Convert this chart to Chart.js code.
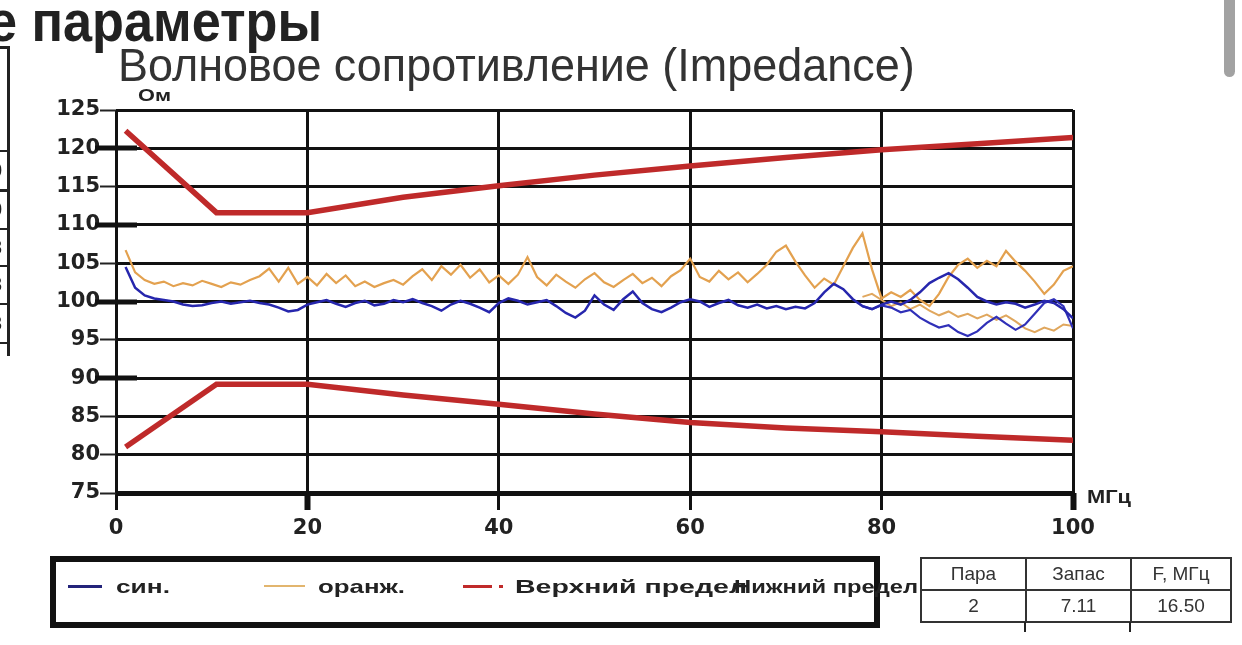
<!DOCTYPE html>
<html lang="ru">
<head>
<meta charset="utf-8">
<title>Волновое сопротивление (Impedance)</title>
<script src="https://cdn.jsdelivr.net/npm/chart.js@4.4.1/dist/chart.umd.min.js"></script>
<style>
  html, body { margin: 0; padding: 0; background: #fff; }
  body {
    width: 1242px; height: 645px; position: relative; overflow: hidden;
    font-family: 'Liberation Sans', Arial, sans-serif; color: #222;
  }
  #chart { position: absolute; left: 0; top: 0; }
  .txt { position: absolute; white-space: nowrap; line-height: 1; transform-origin: 0 50%; }
  .bold { font-weight: bold; }
  #legend {
    position: absolute; left: 50px; top: 556px; width: 830px; height: 72px;
    border: 6px solid #111; box-sizing: border-box;
  }
  .swatch { position: absolute; height: 3px; }
  #info { position: absolute; left: 920px; top: 557px; border-collapse: collapse; }
  #info td {
    border: 2px solid #333; height: 30px; padding: 0; text-align: center;
    font-size: 19px; color: #333;
  }
  .cut { position: absolute; background: #222; }
  #scroll {
    position: absolute; left: 1224px; top: -8px; width: 11px; height: 85px;
    background: #a2a2a2; border-radius: 6px;
  }
</style>
</head>
<body>
<canvas id="chart" width="1242" height="645"></canvas>

<!-- page fragments around the chart -->
<div class="txt bold" data-w="334" style="left:-12px; top:-8px; font-size:58px; color:#222;">е параметры</div>
<div class="cut" style="left:7px; top:46px; width:3px; height:310px;"></div>
<div class="cut" style="left:0; top:46px; width:9px; height:3px;"></div>
<div class="cut" style="left:0; top:150px; width:9px; height:2px;"></div>
<div class="cut" style="left:0; top:189px; width:9px; height:3px;"></div>
<div class="cut" style="left:0; top:228px; width:9px; height:2px;"></div>
<div class="cut" style="left:0; top:265px; width:9px; height:2px;"></div>
<div class="cut" style="left:0; top:303px; width:9px; height:2px;"></div>
<div class="cut" style="left:0; top:342px; width:9px; height:2px;"></div>
<div class="txt" style="left:-9px; top:160px; font-size:20px;">0</div>
<div class="txt" style="left:-9px; top:199px; font-size:20px;">0</div>
<div class="txt" style="left:-9px; top:237px; font-size:20px;">8</div>
<div class="txt" style="left:-9px; top:274px; font-size:20px;">8</div>
<div class="txt" style="left:-9px; top:313px; font-size:20px;">3</div>
<div id="scroll"></div>

<div class="txt" data-w="797" style="left:118px; top:42px; font-size:46px; color:#333;">Волновое сопротивление (Impedance)</div>
<div class="txt bold" data-w="33" style="left:138px; top:87px; font-size:17px;">Ом</div>
<div class="txt bold" data-w="44" style="left:1087px; top:487px; font-size:19px;">МГц</div>

<div id="legend"></div>
<div class="swatch" style="left:68px; top:585px; width:34px; background:#23237a;"></div>
<div class="txt bold" data-w="54" style="left:116px; top:577px; font-size:19px;">син.</div>
<div class="swatch" style="left:264px; top:585px; width:41px; height:2px; background:#e2b56e;"></div>
<div class="txt bold" data-w="87" style="left:318px; top:577px; font-size:19px;">оранж.</div>
<div class="swatch" style="left:463px; top:585px; width:29px; background:#c02a2a;"></div>
<div class="swatch" style="left:499px; top:585px; width:4px; background:#c02a2a;"></div>
<div class="txt bold" data-w="232" style="left:515px; top:577px; font-size:19px;">Верхний предел</div>
<div class="txt bold" data-w="184" style="left:734px; top:577px; font-size:19px;">Нижний предел</div>

<table id="info">
  <tr><td style="width:103px;">Пара</td><td style="width:103px;">Запас</td><td style="width:98px;">F, МГц</td></tr>
  <tr><td>2</td><td>7.11</td><td>16.50</td></tr>
</table>
<div class="cut" style="left:1024px; top:622px; width:2px; height:10px;"></div>
<div class="cut" style="left:1129px; top:622px; width:2px; height:10px;"></div>

<script>
  // Frequency grid of the measured traces, MHz
  var FREQ = [
    1, 2, 3, 4, 5, 6, 7, 8, 9, 10,
    11, 12, 13, 14, 15, 16, 17, 18, 19, 20,
    21, 22, 23, 24, 25, 26, 27, 28, 29, 30,
    31, 32, 33, 34, 35, 36, 37, 38, 39, 40,
    41, 42, 43, 44, 45, 46, 47, 48, 49, 50,
    51, 52, 53, 54, 55, 56, 57, 58, 59, 60,
    61, 62, 63, 64, 65, 66, 67, 68, 69, 70,
    71, 72, 73, 74, 75, 76, 77, 78, 79, 80,
    81, 82, 83, 84, 85, 86, 87, 88, 89, 90,
    91, 92, 93, 94, 95, 96, 97, 98, 99, 100
  ];

  // Blue pair, impedance in Ohm
  var BLUE = [
    104.5, 101.8, 100.8, 100.4, 100.2, 100.0, 99.6, 99.4, 99.5, 99.8,
    100.0, 99.7, 99.9, 100.1, 99.8, 99.6, 99.2, 98.7, 98.9, 99.6,
    99.9, 100.2, 99.7, 99.3, 99.8, 100.1, 99.5, 99.7, 100.2, 99.9,
    100.3, 99.8, 99.4, 98.8, 99.6, 100.1, 99.7, 99.2, 98.6, 99.8,
    100.4, 100.1, 99.6, 99.9, 100.2, 99.4, 98.5, 97.9, 98.8, 100.8,
    99.6, 98.9, 100.3, 101.3, 99.8, 99.0, 98.6, 99.2, 99.9, 100.3,
    100.0, 99.3, 99.8, 100.2, 99.5, 99.2, 99.6, 99.1, 99.4, 99.0,
    99.3, 99.1, 99.8, 101.2, 102.3, 101.6, 100.3, 99.4, 99.0, 99.6,
    100.0, 99.6, 100.2, 101.2, 102.4, 103.1, 103.7, 102.9, 101.8, 100.6,
    100.0, 99.6, 99.9, 99.7, 99.2, 99.6, 100.1, 99.8, 99.0, 97.8
  ];

  // Orange pair, impedance in Ohm
  var ORANGE = [
    106.7, 103.8, 102.8, 102.3, 102.6, 102.0, 102.4, 102.1, 102.7, 102.3,
    101.9, 102.5, 102.2, 102.8, 103.3, 104.3, 102.6, 104.4, 102.3, 103.2,
    102.1, 103.6, 102.4, 103.4, 102.0, 102.6, 101.9, 102.4, 102.8, 102.2,
    103.3, 104.2, 102.8, 104.6, 103.5, 104.8, 103.1, 104.2, 102.5, 103.4,
    102.3, 103.5, 105.8, 103.2, 102.1, 103.5, 102.6, 101.8, 102.9, 103.7,
    102.5, 101.9, 102.8, 103.6, 102.4, 103.1, 102.0, 103.3, 104.1, 105.6,
    103.2, 102.6, 104.0, 102.9, 103.8, 102.5, 103.6, 104.8, 106.5, 107.3,
    105.2, 103.4, 101.8, 103.0, 102.2, 104.6, 107.0, 108.9, 104.2, 100.4,
    101.2, 100.6, 101.5, 100.2, 99.4, 101.0, 103.2, 104.8, 105.6, 104.4,
    105.3, 104.6, 106.6, 105.2, 104.0, 102.6, 101.0, 102.2, 104.0, 104.6
  ];

  // Second traces that split off above ~78 MHz
  var FREQ_TAIL = [
    78, 79, 80, 81, 82, 83, 84, 85, 86, 87, 88, 89,
    90, 91, 92, 93, 94, 95, 96, 97, 98, 99, 100
  ];
  var BLUE_TAIL = [
    99.4, 99.0, 99.5, 99.2, 98.6, 98.9, 97.9, 97.2, 96.6, 96.9, 96.0, 95.5,
    96.1, 97.2, 98.0, 97.1, 96.3, 97.0, 98.4, 99.8, 100.3, 99.4, 96.5
  ];
  var ORANGE_TAIL = [
    100.6, 101.0, 100.2, 99.4, 99.9, 99.0, 99.6, 98.8, 98.2, 98.7, 98.0, 98.4,
    97.8, 98.3, 97.6, 98.2, 97.4, 96.5, 96.0, 96.6, 96.2, 97.0, 96.8
  ];

  // Limit lines
  var LIMIT_FREQ = [1, 10.5, 20, 30, 40, 50, 60, 70, 80, 90, 100];
  var UPPER = [122.3, 111.6, 111.6, 113.6, 115.1, 116.5, 117.7, 118.8, 119.8, 120.6, 121.4];
  var LOWER = [81.0, 89.2, 89.2, 87.8, 86.6, 85.3, 84.2, 83.5, 83.0, 82.4, 81.9];

  var Y_TICKS = [125, 120, 115, 110, 105, 100, 95, 90, 85, 80, 75];
  var THICK_Y = [120, 110, 100, 90];

  function pts(xs, ys) {
    return xs.map(function (x, i) { return { x: x, y: ys[i] }; });
  }

  function line(label, xs, ys, color, width, order) {
    return {
      label: label,
      data: pts(xs, ys),
      borderColor: color,
      backgroundColor: color,
      borderWidth: width,
      pointRadius: 0,
      tension: 0,
      fill: false,
      order: order,
    };
  }

  // heavy dashes crossing the left edge at 120/110/100/90
  var axisMarks = {
    id: 'axisMarks',
    afterDatasetsDraw: function (chart) {
      var ctx = chart.ctx;
      var y = chart.scales.y;
      ctx.save();
      ctx.strokeStyle = '#111';
      ctx.lineWidth = 5;
      THICK_Y.forEach(function (v) {
        var py = Math.round(y.getPixelForValue(v));
        ctx.beginPath();
        ctx.moveTo(95, py);
        ctx.lineTo(137, py);
        ctx.stroke();
      });
      ctx.restore();
    },
  };

  var tickFont = { family: "'DejaVu Sans', sans-serif", weight: 'bold' };

  new Chart(document.getElementById('chart'), {
    type: 'line',
    data: {
      datasets: [
        line('син.', FREQ, BLUE, '#2626ad', 2.5, 1),
        line('син. 2', FREQ_TAIL, BLUE_TAIL, '#3030b8', 2.2, 2),
        line('оранж.', FREQ, ORANGE, '#e3a14f', 2.2, 3),
        line('оранж. 2', FREQ_TAIL, ORANGE_TAIL, '#e0a75e', 2, 4),
        line('Верхний предел', LIMIT_FREQ, UPPER, '#bf2a2a', 5.5, 0),
        line('Нижний предел', LIMIT_FREQ, LOWER, '#bf2a2a', 5.5, 0),
      ],
    },
    options: {
      responsive: false,
      animation: false,
      layout: { padding: { left: 0, top: 110, right: 169, bottom: 100 } },
      plugins: {
        legend: { display: false },
        title: { display: false },
        tooltip: { enabled: false },
      },
      scales: {
        x: {
          type: 'linear',
          min: 0,
          max: 100,
          afterFit: function (s) { s.height = 52; },
          border: { display: false },
          grid: {
            color: '#111',
            lineWidth: 3,
            tickLength: 17,
            tickColor: '#111',
            tickWidth: function (c) {
              var v = c.tick && c.tick.value;
              return v === 20 || v === 100 ? 6 : 3;
            },
          },
          ticks: {
            stepSize: 20,
            maxRotation: 0,
            padding: 6,
            color: '#222',
            font: Object.assign({ size: 21 }, tickFont),
          },
        },
        y: {
          min: 75,
          max: 125,
          afterFit: function (s) { s.width = 116; },
          afterBuildTicks: function (s) {
            s.ticks = Y_TICKS.map(function (v) { return { value: v }; });
          },
          border: { display: false },
          grid: {
            color: '#111',
            lineWidth: function (c) {
              return c.tick && c.tick.value === 75 ? 5 : 3;
            },
            tickLength: 16,
            tickColor: '#222',
            tickWidth: 2,
          },
          ticks: {
            padding: 0,
            color: '#222',
            font: Object.assign({ size: 21 }, tickFont),
          },
        },
      },
    },
    plugins: [axisMarks],
  });

  // squeeze/stretch text blocks to the widths measured on the reference
  document.querySelectorAll('[data-w]').forEach(function (el) {
    var w = el.getBoundingClientRect().width;
    el.style.transform = 'scaleX(' + (parseFloat(el.dataset.w) / w).toFixed(3) + ')';
  });
</script>
</body>
</html>
